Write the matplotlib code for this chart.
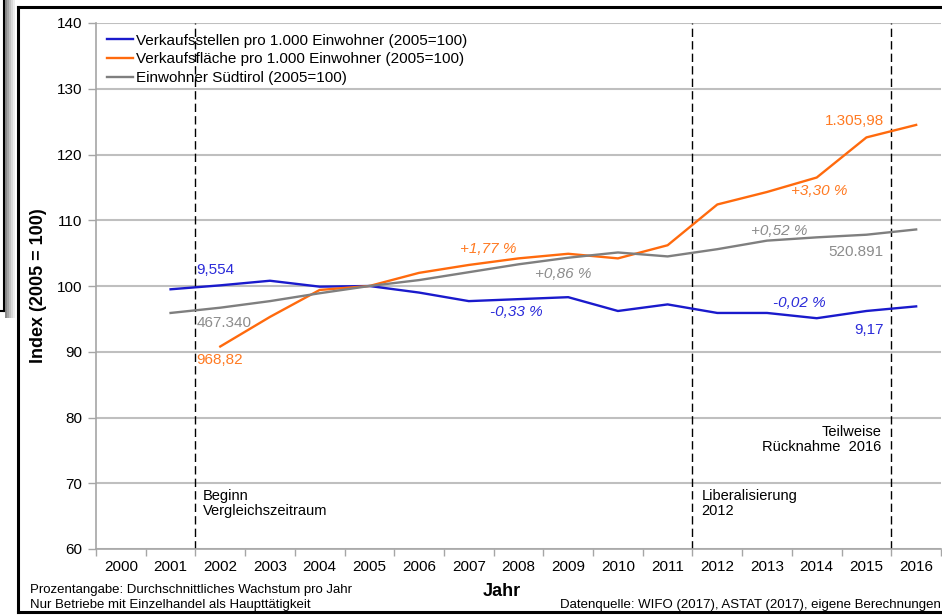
import matplotlib
matplotlib.use("Agg")
import matplotlib.pyplot as plt
from matplotlib.lines import Line2D
from matplotlib.patches import Rectangle

plt.rcParams['font.family'] = ['Liberation Sans', 'DejaVu Sans']

years = [str(y) for y in range(2000, 2017)]
# values per year (None = no data)
stellen = [None, 99.5, 100.1, 100.8, 99.9, 100.0, 99.0, 97.7, 98.0, 98.3, 96.2, 97.2, 95.9, 95.9, 95.1, 96.2, 96.9]
flaeche = [None, None, 90.8, 95.3, 99.4, 100.0, 102.0, 103.2, 104.2, 104.9, 104.2, 106.2, 112.4, 114.3, 116.5, 122.6, 124.5]
einwohner = [None, 95.9, 96.7, 97.7, 98.9, 100.0, 100.9, 102.1, 103.3, 104.3, 105.1, 104.5, 105.6, 106.9, 107.4, 107.8, 108.6]

labels_series = ["Verkaufsstellen pro 1.000 Einwohner (2005=100)",
                 "Verkaufsfläche pro 1.000 Einwohner (2005=100)",
                 "Einwohner Südtirol (2005=100)"]
line_colors = ["#1a1acc", "#ff6a0d", "#7f7f7f"]
text_colors = ["#2b2bd9", "#ff7a22", "#8c8c8c"]

W, H = 942, 615
fig = plt.figure(figsize=(W / 100, H / 100), dpi=100)
fig.patch.set_facecolor("white")

ax = fig.add_axes([96 / W, 1 - 549 / H, (941 - 96) / W, (549 - 23) / H])
x = list(range(len(years)))

def xy(vals):
    pts = [(i, v) for i, v in zip(x, vals) if v is not None]
    return [p[0] for p in pts], [p[1] for p in pts]

handles = []
for vals, c, lab in zip([stellen, flaeche, einwohner], line_colors, labels_series):
    xs, ys = xy(vals)
    h, = ax.plot(xs, ys, color=c, lw=1.7, label=lab, zorder=3)
    handles.append(h)

ax.set_xlim(-0.5, 16.5)
ax.set_ylim(60, 140)
ax.set_yticks(range(60, 141, 10))
ax.set_xticks(x)
ax.set_xticklabels(years)
ax.set_xticks([i - 0.5 for i in range(18)], minor=True)
ax.tick_params(axis='x', which='major', length=0, labelsize=11, pad=8)
ax.tick_params(axis='x', which='minor', length=5, color="#a6a6a6", width=1)
ax.tick_params(axis='y', length=6, color="#a6a6a6", width=1, labelsize=11, pad=4)
ax.grid(axis='y', color="#bfbfbf", lw=1.5, zorder=0)
ax.set_axisbelow(True)
for s in ['top', 'right']:
    ax.spines[s].set_visible(False)
for s in ['left', 'bottom']:
    ax.spines[s].set_color("#a6a6a6")
    ax.spines[s].set_linewidth(1.2)

ax.set_ylabel("Index (2005 = 100)", fontsize=13, fontweight='bold', labelpad=7)
ax.set_xlabel("Jahr", fontsize=13, fontweight='bold')
ax.xaxis.set_label_coords((502 - 96) / 845, -(591 - 549) / 526, transform=ax.transAxes)
ax.xaxis.label.set_va('center')

# dashed reference lines
for xv in [1.5, 11.5, 15.5]:
    ax.axvline(xv, color="black", lw=1, ls=(0, (6, 3)), zorder=2)

leg = ax.legend(handles=handles, loc='upper left', frameon=False, fontsize=11,
                handlelength=1.7, handletextpad=0.2, borderaxespad=0.3,
                labelspacing=0.3, bbox_to_anchor=(0.0, 1.0))

# value / growth annotations
fs = 11
ax.text(1.52, 102.4, "9,554", color=text_colors[0], fontsize=fs, va='center')
ax.text(1.52, 94.4, "467.340", color=text_colors[2], fontsize=fs, va='center')
ax.text(1.52, 88.7, "968,82", color=text_colors[1], fontsize=fs, va='center')
ax.text(7.4, 105.6, "+1,77 %", color=text_colors[1], fontsize=fs, style='italic', ha='center', va='center')
ax.text(8.9, 101.9, "+0,86 %", color=text_colors[2], fontsize=fs, style='italic', ha='center', va='center')
ax.text(7.95, 96.1, "-0,33 %", color=text_colors[0], fontsize=fs, style='italic', ha='center', va='center')
ax.text(13.25, 108.4, "+0,52 %", color=text_colors[2], fontsize=fs, style='italic', ha='center', va='center')
ax.text(15.35, 105.2, "520.891", color=text_colors[2], fontsize=fs, ha='right', va='center')
ax.text(15.35, 125.1, "1.305,98", color=text_colors[1], fontsize=fs, ha='right', va='center')
ax.text(14.05, 114.4, "+3,30 %", color=text_colors[1], fontsize=fs, style='italic', ha='center', va='center')
ax.text(13.65, 97.4, "-0,02 %", color=text_colors[0], fontsize=fs, style='italic', ha='center', va='center')
ax.text(15.35, 93.3, "9,17", color=text_colors[0], fontsize=fs, ha='right', va='center')

ax.text(1.65, 69.2, "Beginn\nVergleichszeitraum", fontsize=10.5, va='top', ha='left', linespacing=1.15)
ax.text(11.68, 69.2, "Liberalisierung\n2012", fontsize=10.5, va='top', ha='left', linespacing=1.15)
ax.text(15.3, 78.9, "Teilweise\nRücknahme  2016", fontsize=10.5, va='top', ha='right', multialignment='right', linespacing=1.15)

# footnotes
fig.text(30 / W, 1 - 590 / H, "Prozentangabe: Durchschnittliches Wachstum pro Jahr", fontsize=9.5, va='center')
fig.text(30 / W, 1 - 605 / H, "Nur Betriebe mit Einzelhandel als Haupttätigkeit", fontsize=9.5, va='center')
fig.text(941 / W, 1 - 605 / H, "Datenquelle: WIFO (2017), ASTAT (2017), eigene Berechnungen", fontsize=9.5,
         va='center', ha='right')

# outer frame (screenshot-style)
fig.add_artist(Line2D([18 / W, 18 / W], [1 - 612 / H, 1 - 7 / H], color='black', lw=2.2, transform=fig.transFigure))
fig.add_artist(Line2D([18 / W, 1.0], [1 - 7 / H, 1 - 7 / H], color='black', lw=2.2, transform=fig.transFigure))
fig.add_artist(Line2D([18 / W, 1.0], [1 - 612 / H, 1 - 612 / H], color='black', lw=2.2, transform=fig.transFigure))
# left box remnant with shadow
for i, g in enumerate(["#8a8a8a", "#a5a5a5", "#c0c0c0", "#d8d8d8", "#ececec"]):
    fig.add_artist(Rectangle(((5 + i * 2) / W, 1 - 318 / H), 2 / W, 318 / H, color=g, lw=0, transform=fig.transFigure))
fig.add_artist(Line2D([3.5 / W, 3.5 / W], [1 - 311 / H, 1.0], color='black', lw=1.5, transform=fig.transFigure))
fig.add_artist(Line2D([0, 4 / W], [1 - 311 / H, 1 - 311 / H], color='black', lw=1.5, transform=fig.transFigure))

fig.savefig("out.png", dpi=100)
